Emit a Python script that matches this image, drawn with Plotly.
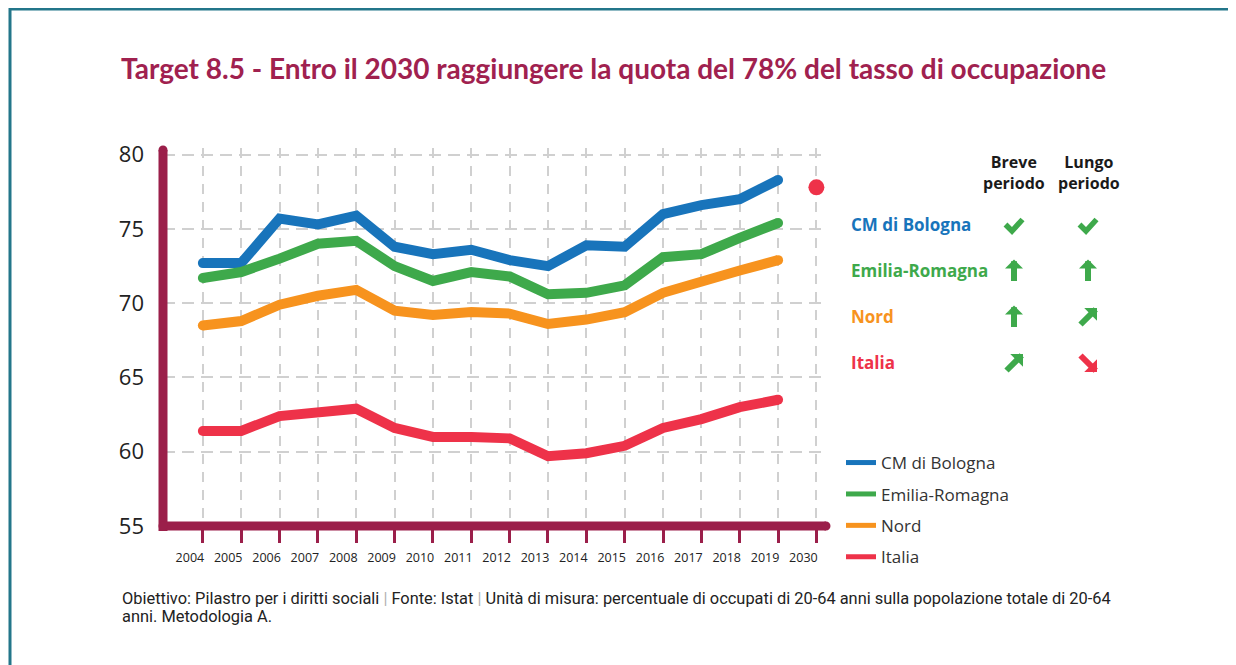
import plotly.graph_objects as go

# ---------------- data ----------------
years = ["2004", "2005", "2006", "2007", "2008", "2009", "2010", "2011", "2012",
         "2013", "2014", "2015", "2016", "2017", "2018", "2019"]
target_year = "2030"
bologna = [72.7, 72.7, 75.7, 75.3, 75.9, 73.8, 73.3, 73.6, 72.9, 72.5, 73.9, 73.8, 76.0, 76.6, 77.0, 78.3]
emilia = [71.7, 72.1, 73.0, 74.0, 74.2, 72.5, 71.5, 72.1, 71.8, 70.6, 70.7, 71.2, 73.1, 73.3, 74.4, 75.4]
nord = [68.5, 68.8, 69.9, 70.5, 70.9, 69.5, 69.2, 69.4, 69.3, 68.6, 68.9, 69.4, 70.7, 71.5, 72.2, 72.9]
italia = [61.4, 61.4, 62.4, 62.7, 62.9, 61.6, 61.0, 61.0, 60.9, 59.7, 59.9, 60.4, 61.6, 62.2, 63.0, 63.5]
target_value = 77.8
y_ticks = [55, 60, 65, 70, 75, 80]

series_names = ["CM di Bologna", "Emilia-Romagna", "Nord", "Italia"]
series_values = [bologna, emilia, nord, italia]
colors = ["#1874bb", "#3ea94b", "#f7931e", "#ee3249"]
# trend symbols: "check", "up", "ne" (up-right), "se" (down-right)
breve = ["check", "up", "up", "ne"]
lungo = ["check", "up", "ne", "se"]
col_headers = ["Breve<br>periodo", "Lungo<br>periodo"]

title_text = "Target 8.5 - Entro il 2030 raggiungere la quota del 78% del tasso di occupazione"
sep = "<span style='color:#b0b0b0'>|</span>"
footer_lines = ["Obiettivo: Pilastro per i diritti sociali " + sep + " Fonte: Istat " + sep +
                " Unità di misura: percentuale di occupati di 20-64 anni sulla popolazione totale di 20-64",
                "anni. Metodologia A."]

# ---------------- layout geometry (page pixels; body margin = 8px) ----------------
OFF = 8
W, H = 1236 - OFF, 665 - OFF
L, R, T, B = 163 - OFF, 826 - OFF, 148 - OFF, 526 - OFF
PW, PH = R - L, B - T
MAROON = "#9b1f4a"
TEAL = "#23768a"
GREEN = "#3ea94b"
RED = "#ee3249"


def px(x):
    return (x - OFF - L) / PW


def py(y):
    return (B - (y - OFF)) / PH


categories = years + [target_year]
xi = list(range(len(categories)))

fig = go.Figure()
for name, vals, col in zip(series_names, series_values, colors):
    n = len(vals)
    fig.add_trace(go.Scatter(
        x=xi[:n], y=vals, mode="lines+markers", name=name,
        line=dict(color=col, width=10),
        marker=dict(color=col, opacity=1, size=[10] + [0] * (n - 2) + [10], line=dict(width=0)),
        showlegend=False, hoverinfo="skip"))
# legend entries (thinner sample lines)
for i, (name, col) in enumerate(zip(series_names, colors)):
    fig.add_trace(go.Scatter(
        x=[None], y=[None], mode="lines", name=name,
        line=dict(color=col, width=5), legendgroup=str(i)))

fig.add_trace(go.Scatter(
    x=[xi[-1]], y=[target_value], mode="markers", showlegend=False,
    marker=dict(color=RED, size=16), hoverinfo="skip"))

shapes = []
# border frame
shapes.append(dict(type="rect", xref="paper", yref="paper",
                   x0=px(10), x1=px(1236 + 20), y0=py(OFF + 1), y1=py(665 + 20),
                   line=dict(color=TEAL, width=3), layer="below"))
# axis lines
shapes.append(dict(type="line", xref="paper", yref="paper", x0=0, x1=0, y0=py(531), y1=py(150),
                   line=dict(color=MAROON, width=9), layer="above"))
shapes.append(dict(type="line", xref="paper", yref="paper", x0=px(159), x1=1, y0=0, y1=0,
                   line=dict(color=MAROON, width=9), layer="above"))
for (ax, ay) in [(0, py(150)), (1, 0), (0, 0)]:
    shapes.append(dict(type="circle", xref="paper", yref="paper", xsizemode="pixel",
                       ysizemode="pixel", xanchor=ax, yanchor=ay, x0=-4.5, x1=4.5, y0=-4.5, y1=4.5,
                       fillcolor=MAROON, line=dict(width=0), layer="above"))

annotations = []
hdr_x = [1014, 1089]
for hx, ht in zip(hdr_x, col_headers):
    annotations.append(dict(xref="paper", yref="paper", x=px(hx), y=py(172), text="<b>" + ht + "</b>",
                            showarrow=False, xanchor="center", yanchor="middle",
                            font=dict(family="Open Sans", size=16, color="#1a1a1a")))


def add_symbol(kind, cx, cy):
    if kind == "check":
        shapes.append(dict(type="path", xref="paper", yref="paper", xsizemode="pixel",
                           ysizemode="pixel", xanchor=px(cx), yanchor=py(cy),
                           path="M-8.5,0.5 L-2,-6 L8.5,5.5",
                           line=dict(color=GREEN, width=5.5), layer="above"))
        return
    if kind == "up":
        hx, hy, tx, ty, c = cx, cy - 11.5, cx, cy + 11.5, GREEN
    elif kind == "ne":
        hx, hy, tx, ty, c = cx + 9, cy - 9, cx - 9, cy + 9, GREEN
    else:
        hx, hy, tx, ty, c = cx + 9, cy + 9, cx - 9, cy - 9, RED
    annotations.append(dict(xref="paper", yref="paper", x=px(hx), y=py(hy), ax=tx - hx, ay=ty - hy,
                            text="", showarrow=True, arrowhead=1, arrowsize=0.5, arrowwidth=6,
                            arrowcolor=c, standoff=0, startstandoff=0))


row_y = [224, 270, 316, 362]
for name, col, ry, b_sym, l_sym in zip(series_names, colors, row_y, breve, lungo):
    annotations.append(dict(xref="paper", yref="paper", x=px(849), y=py(ry), text="<b>" + name + "</b>",
                            showarrow=False, xanchor="left", yanchor="middle",
                            font=dict(family="Open Sans", size=17, color=col)))
    add_symbol(b_sym, hdr_x[0], ry + 1)
    add_symbol(l_sym, hdr_x[1] - 1, ry + 1)

for fy, ft in zip([598, 616], footer_lines):
    annotations.append(dict(xref="paper", yref="paper", x=px(120), y=py(fy), text=ft,
                            showarrow=False, xanchor="left", yanchor="middle", align="left",
                            font=dict(family="Roboto", size=16.4, color="#222")))

fig.update_layout(
    width=W, height=H,
    margin=dict(l=L, r=W - R, t=T, b=H - B, pad=0),
    paper_bgcolor="white", plot_bgcolor="white",
    title=dict(text="<b>" + title_text + "</b>", xref="container", yref="container",
               x=(121 - OFF) / W, y=1 - (69 - OFF) / H, xanchor="left", yanchor="middle",
               font=dict(family="Lato", size=28, color="#a0214f")),
    xaxis=dict(range=[-1.04, 16.25], tickmode="array", tickvals=xi, ticktext=categories,
               showgrid=True, gridcolor="#d0d0d0", gridwidth=1.5, griddash="10px,8px",
               zeroline=False, showline=False, ticks="outside", ticklen=16, tickwidth=3,
               tickcolor=MAROON, ticklabelshift=-13, ticklabelstandoff=4,
               tickfont=dict(family="Open Sans", size=12.5, color="#222")),
    yaxis=dict(range=[55, 80.45], tickmode="array", tickvals=y_ticks,
               showgrid=True, gridcolor="#d0d0d0", gridwidth=1.5, griddash="12px,7px",
               zeroline=False, showline=False, ticks="", ticklabelstandoff=18,
               tickfont=dict(family="Open Sans", size=22, color="#222")),
    legend=dict(x=px(841), y=py(445), xanchor="left", yanchor="top",
                font=dict(family="Open Sans", size=17, color="#333"),
                tracegroupgap=6.3, itemwidth=30, bgcolor="rgba(0,0,0,0)"),
    shapes=shapes, annotations=annotations, showlegend=True,
)

fig.write_html("out.html")
